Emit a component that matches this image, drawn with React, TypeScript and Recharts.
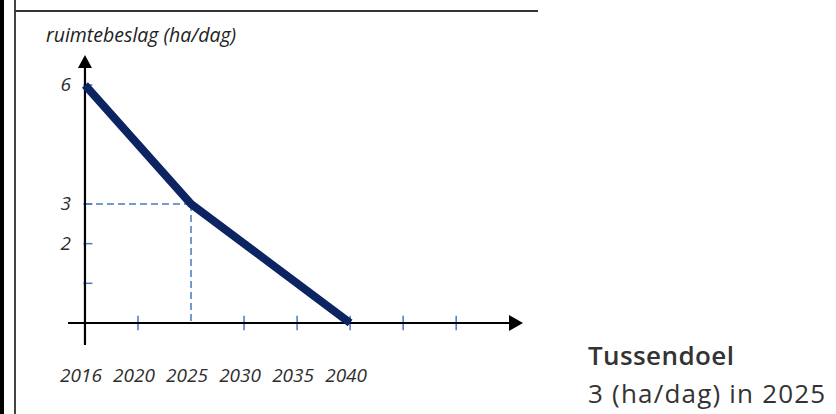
import React from 'react';
import { LineChart, Line, XAxis, YAxis, ReferenceLine } from 'recharts';

// Data
const yearLabels = ['2016', '2020', '2025', '2030', '2035', '2040'];
const yearPositions = [0, 1, 2, 3, 4, 5];
const pathPositions = [0, 2, 5];
const pathValues = [6, 3, 0];
const yLabelValues = [2, 3, 6];
const yTickMarkValues = [1, 2, 3, 6];
const xTickMarkPositions = [1, 3, 4, 5, 6, 7];
const targetPosition = 2;
const targetValue = 3;
const yTitle = 'ruimtebeslag (ha/dag)';
const noteTitle = 'Tussendoel';
const noteText = '3 (ha/dag) in 2025';

const X_DOMAIN: [number, number] = [-0.32, 8.26];
const Y_DOMAIN: [number, number] = [-0.555, 6.756];

const data = pathPositions.map((p, i) => ({ x: p, y: pathValues[i] }));

const NAVY = '#0c2462';
const BLUE = '#4a78c0';
const FONT = '"Open Sans", "Noto Sans", sans-serif';

const ArrowX = (props: any) => {
  const { x1, y1, x2 } = props;
  return (
    <g>
      <line x1={x1} y1={y1} x2={x2 - 8} y2={y1} stroke="#000" strokeWidth={2.2} />
      <polygon points={`${x2},${y1} ${x2 - 14},${y1 - 8} ${x2 - 14},${y1 + 8}`} fill="#000" />
    </g>
  );
};

const ArrowY = (props: any) => {
  const { x1, y1, y2 } = props;
  const top = Math.min(y1, y2);
  const bottom = Math.max(y1, y2);
  return (
    <g>
      <line x1={x1} y1={bottom} x2={x1} y2={top + 8} stroke="#000" strokeWidth={2.2} />
      <polygon points={`${x1},${top} ${x1 - 7},${top + 13} ${x1 + 7},${top + 13}`} fill="#000" />
    </g>
  );
};

const XTick = (props: any) => {
  const { x, y, payload } = props;
  return (
    <text
      x={x - 4}
      y={y}
      dy={14}
      textAnchor="middle"
      fontFamily={FONT}
      fontStyle="italic"
      fontSize={19}
      fill="#2e2e2e"
    >
      {yearLabels[payload.value]}
    </text>
  );
};

const YTick = (props: any) => {
  const { x, y, payload } = props;
  return (
    <text
      x={x + 3}
      y={y}
      dy={6}
      textAnchor="end"
      fontFamily={FONT}
      fontStyle="italic"
      fontSize={19}
      fill="#2e2e2e"
    >
      {payload.value}
    </text>
  );
};

export default function App() {
  return (
    <div
      style={{
        position: 'fixed',
        left: 0,
        top: 0,
        width: 836,
        height: 414,
        background: '#fff',
        overflow: 'hidden',
      }}
    >
      {/* frame */}
      <div style={{ position: 'absolute', left: 0, top: 0, width: 4, height: 414, background: '#000' }} />
      <div style={{ position: 'absolute', left: 14, top: 0, width: 2, height: 414, background: '#444' }} />
      <div style={{ position: 'absolute', left: 15, top: 10, width: 523, height: 2, background: '#333' }} />

      <div
        style={{
          position: 'absolute',
          left: 46,
          top: 24,
          fontFamily: FONT,
          fontStyle: 'italic',
          fontSize: 19.5,
          color: '#222',
          whiteSpace: 'nowrap',
          lineHeight: '22px',
        }}
      >
        {yTitle}
      </div>

      <div
        style={{
          position: 'absolute',
          left: 588,
          top: 338,
          fontFamily: FONT,
          fontSize: 26,
          fontWeight: 600,
          letterSpacing: 0.4,
          color: '#333',
          whiteSpace: 'nowrap',
          lineHeight: '34px',
        }}
      >
        {noteTitle}
      </div>
      <div
        style={{
          position: 'absolute',
          left: 588,
          top: 376,
          fontFamily: FONT,
          fontSize: 26,
          letterSpacing: 1.2,
          color: '#333',
          whiteSpace: 'nowrap',
          lineHeight: '34px',
        }}
      >
        {noteText}
      </div>

      <div style={{ position: 'absolute', left: 0, top: 0 }}>
        <LineChart
          width={836}
          height={414}
          data={data}
          margin={{ top: 55, right: 313, bottom: 29, left: 8 }}
        >
          <XAxis
            dataKey="x"
            type="number"
            domain={X_DOMAIN}
            allowDataOverflow
            ticks={yearPositions}
            interval={0}
            axisLine={false}
            tickLine={false}
            tickSize={0}
            tickMargin={23}
            height={40}
            tick={<XTick />}
          />
          <YAxis
            type="number"
            domain={Y_DOMAIN}
            allowDataOverflow
            ticks={yLabelValues}
            interval={0}
            axisLine={false}
            tickLine={false}
            tickSize={0}
            tickMargin={0}
            width={60}
            tick={<YTick />}
          />

          {/* dashed guide lines */}
          <ReferenceLine
            segment={[{ x: 0, y: targetValue }, { x: targetPosition, y: targetValue }]}
            stroke={BLUE}
            strokeWidth={1.5}
            strokeDasharray="7 4"
            ifOverflow="visible"
          />
          <ReferenceLine
            segment={[{ x: targetPosition, y: targetValue }, { x: targetPosition, y: 0 }]}
            stroke={BLUE}
            strokeWidth={1.5}
            strokeDasharray="7 4"
            ifOverflow="visible"
          />

          {/* tick marks */}
          {xTickMarkPositions.map((p) => (
            <ReferenceLine
              key={'xt' + p}
              segment={[{ x: p, y: -0.18 }, { x: p, y: 0.18 }]}
              stroke={BLUE}
              strokeWidth={1.5}
              ifOverflow="visible"
            />
          ))}
          {yTickMarkValues.map((v) => (
            <ReferenceLine
              key={'yt' + v}
              segment={[{ x: -0.03, y: v }, { x: 0.14, y: v }]}
              stroke={BLUE}
              strokeWidth={1.5}
              ifOverflow="visible"
            />
          ))}

          {/* axes with arrows */}
          <ReferenceLine
            segment={[{ x: X_DOMAIN[0], y: 0 }, { x: X_DOMAIN[1], y: 0 }]}
            ifOverflow="visible"
            shape={<ArrowX />}
          />
          <ReferenceLine
            segment={[{ x: 0, y: Y_DOMAIN[0] }, { x: 0, y: Y_DOMAIN[1] }]}
            ifOverflow="visible"
            shape={<ArrowY />}
          />

          <Line
            dataKey="y"
            stroke={NAVY}
            strokeWidth={8}
            dot={false}
            activeDot={false}
            strokeLinejoin="round"
            isAnimationActive={false}
          />
        </LineChart>
      </div>
    </div>
  );
}
